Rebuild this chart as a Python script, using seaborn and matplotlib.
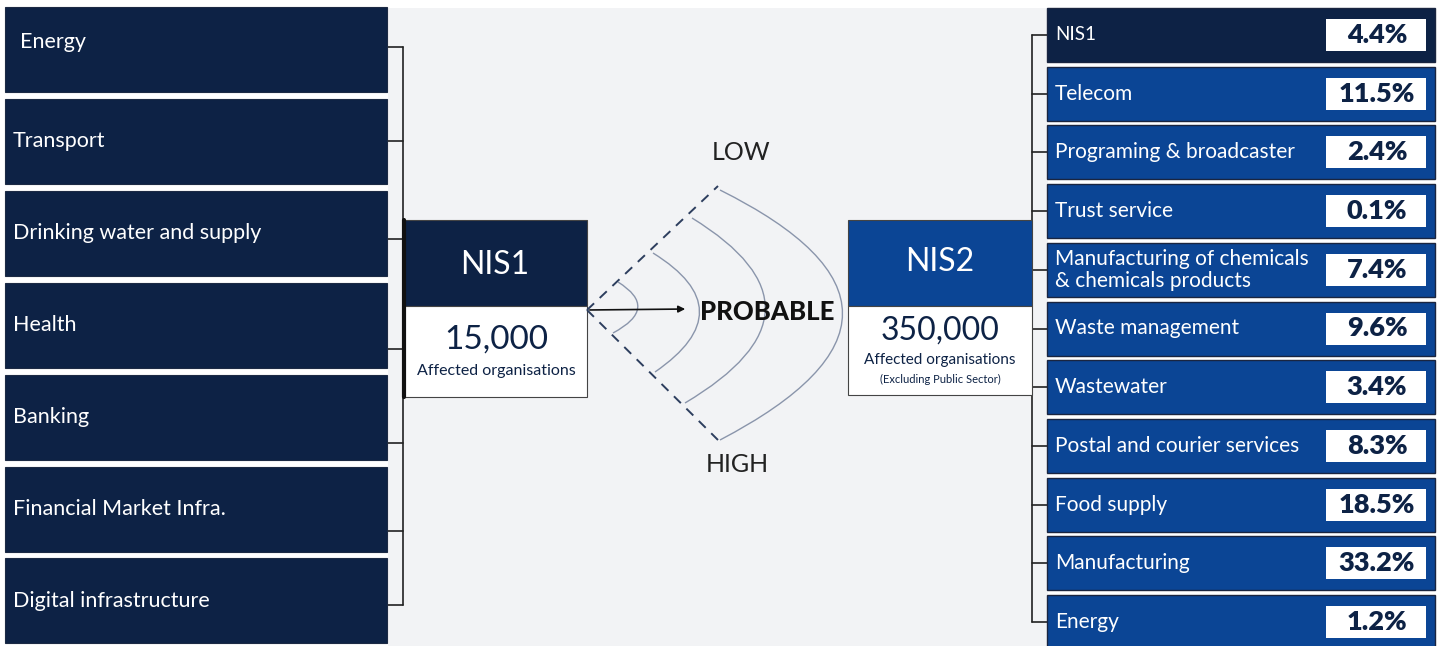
import matplotlib
matplotlib.use("Agg")
import matplotlib.pyplot as plt
import seaborn as sns
from matplotlib.patches import Rectangle, FancyArrowPatch, PathPatch
from matplotlib.path import Path

# ---- data ----
nis1_sectors = ["Energy", "Transport", "Drinking water and supply", "Health",
                "Banking", "Financial Market Infra.", "Digital infrastructure"]
nis2_sectors = ["NIS1", "Telecom", "Programing & broadcaster", "Trust service",
                "Manufacturing of chemicals\n& chemicals products", "Waste management",
                "Wastewater", "Postal and courier services", "Food supply",
                "Manufacturing", "Energy"]
nis2_share = [4.4, 11.5, 2.4, 0.1, 7.4, 9.6, 3.4, 8.3, 18.5, 33.2, 1.2]
nis1_orgs = 15000
nis2_orgs = 350000
scale_labels = ["LOW", "PROBABLE", "HIGH"]

sns.set_theme(style="white")
plt.rcParams["font.family"] = ["Lato", "DejaVu Sans"]

NAVY = "#0d2245"
BLUE = "#0b4595"
W, H = 1440, 646
fig = plt.figure(figsize=(W / 100, H / 100), dpi=100, facecolor="white")
ax = fig.add_axes([0, 0, 1, 1])
ax.set_xlim(0, W)
ax.set_ylim(H, 0)
ax.axis("off")

# light grey central panel
ax.add_patch(Rectangle((388, 8), 660, H - 8, facecolor="#f2f3f5", edgecolor="none", zorder=0))

# ---- left column (NIS1 sectors) ----
left_top, left_pitch, left_h = 7, 91.9, 85
left_ticks = [47, 141, 239, 349, 443, 531, 605]
for i, name in enumerate(nis1_sectors):
    y0 = left_top + i * left_pitch
    ax.add_patch(Rectangle((5, y0), 382, left_h, facecolor=NAVY, edgecolor="#1c2a44",
                           linewidth=0.8, zorder=2))
    ty = y0 + left_h / 2 - (7 if i == 0 else 0)
    ax.text(20 if i == 0 else 13, ty, name, color="white", fontsize=15.5,
            ha="left", va="center", zorder=3)
    ax.plot([387, 403], [left_ticks[i], left_ticks[i]], color="#222222", lw=1.2, zorder=1)
ax.plot([403, 403], [left_ticks[0], left_ticks[-1]], color="#222222", lw=1.2, zorder=1)

# ---- NIS1 box ----
ax.add_patch(Rectangle((403, 220), 184, 86, facecolor=NAVY, edgecolor="#444444", lw=0.8, zorder=2))
ax.add_patch(Rectangle((403, 306), 184, 91, facecolor="white", edgecolor="#444444", lw=0.8, zorder=2))
ax.plot([404, 404], [220, 397], color="#111111", lw=3, zorder=3)
ax.text(495, 265, "NIS1", color="white", fontsize=23, ha="center", va="center", zorder=3)
ax.text(496, 340, f"{nis1_orgs:,}", color=NAVY, fontsize=24, ha="center", va="center", zorder=3)
ax.text(496, 371, "Affected organisations", color=NAVY, fontsize=11.5, ha="center",
        va="center", zorder=3)

# ---- funnel ----
ox, oy = 587, 310
ax.plot([ox, 718], [oy, 186], color="#2d3e5e", lw=1.4, ls=(0, (5, 4)), zorder=2)
ax.plot([ox, 718], [oy, 440], color="#2d3e5e", lw=1.4, ls=(0, (5, 4)), zorder=2)
arcs = [((618, 282), (660, 308), (613, 333)),
        ((653, 253), (745, 310), (655, 372)),
        ((692, 218), (842, 310), (685, 403)),
        ((720, 190), (965, 312), (720, 440))]
for p0, pc, p1 in arcs:
    path = Path([p0, pc, p1], [Path.MOVETO, Path.CURVE3, Path.CURVE3])
    ax.add_patch(PathPatch(path, facecolor="none", edgecolor="#8a95ab", lw=1.0, zorder=2))
ax.add_patch(FancyArrowPatch((ox, oy), (688, 309), arrowstyle="-|>", mutation_scale=10,
                             color="#111111", lw=1.2, zorder=3))
ax.text(741, 153, scale_labels[0], fontsize=18, color="#222222", ha="center", va="center")
ax.text(767, 312, scale_labels[1], fontsize=18.5, color="#111111", fontweight="black",
        ha="center", va="center", zorder=4)
ax.text(737, 465, scale_labels[2], fontsize=18, color="#222222", ha="center", va="center")

# ---- NIS2 box ----
ax.add_patch(Rectangle((848, 220), 184, 86, facecolor=BLUE, edgecolor="#444444", lw=0.8, zorder=2))
ax.add_patch(Rectangle((848, 306), 184, 89, facecolor="white", edgecolor="#444444", lw=0.8, zorder=2))
ax.text(940, 262, "NIS2", color="white", fontsize=23, ha="center", va="center", zorder=3)
ax.text(940, 331, f"{nis2_orgs:,}", color=NAVY, fontsize=23, ha="center", va="center", zorder=3)
ax.text(940, 360, "Affected organisations", color=NAVY, fontsize=11, ha="center",
        va="center", zorder=3)
ax.text(940, 379, "(Excluding Public Sector)", color=NAVY, fontsize=8, ha="center",
        va="center", zorder=3)

# ---- right column (NIS2 sectors) ----
r_top, r_pitch, r_h = 8, 58.7, 54
mids = []
for i, (name, pct) in enumerate(zip(nis2_sectors, nis2_share)):
    y0 = r_top + i * r_pitch
    mid = y0 + r_h / 2
    mids.append(mid)
    ax.add_patch(Rectangle((1047, y0), 388, r_h, facecolor=NAVY if i == 0 else BLUE,
                           edgecolor="#1a2540", lw=1.0, zorder=2))
    ax.text(1055, mid, name, color="white", fontsize=15 if i else 13.5, ha="left", va="center",
            linespacing=1.1, zorder=3)
    ax.add_patch(Rectangle((1326, mid - 16), 100, 32, facecolor="white", edgecolor="none", zorder=3))
    ax.text(1377, mid, f"{pct:.1f}%", color=NAVY, fontsize=19.5, fontweight="heavy",
            ha="center", va="center", zorder=4)
    ax.plot([1032, 1047], [mid, mid], color="#222222", lw=1.2, zorder=1)
ax.plot([1032, 1032], [mids[0], mids[-1]], color="#222222", lw=1.2, zorder=1)

fig.savefig("out.png", dpi=100, facecolor="white")
